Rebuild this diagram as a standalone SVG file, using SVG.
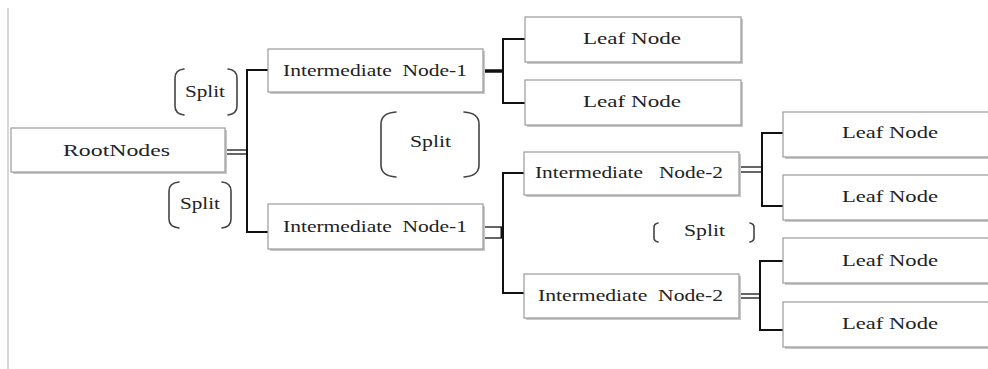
<svg xmlns="http://www.w3.org/2000/svg" width="988" height="369" viewBox="0 0 988 369">
<style>
.box{fill:#fff;stroke:#9a9a9a;stroke-width:1.2}
.sh{fill:#c8c8c8}
.t{font-family:'Liberation Serif','DejaVu Serif',serif;font-size:16.5px;fill:#222}
.c{fill:none;stroke:#111;stroke-width:2}
.d{fill:none;stroke:#111;stroke-width:1.3}
.b{fill:none;stroke:#444;stroke-width:1.6;stroke-linecap:round}
</style>
<rect width="988" height="369" fill="#fff"/>
<line x1="8" y1="8" x2="8" y2="369" stroke="#bdbdbd" stroke-width="1.2"/>
<g id="connectors">
<line class="d" x1="225" y1="150" x2="247" y2="150"/>
<line class="d" x1="225" y1="154" x2="247" y2="154"/>
<polyline class="c" points="268,70 247,70 247,232 268,232"/>
<line x1="483" y1="71" x2="503" y2="71" stroke="#111" stroke-width="3.5"/>
<polyline class="c" points="525,39 503,39 503,103 525,103"/>
<line class="d" x1="483" y1="227" x2="503" y2="227"/>
<line class="d" x1="483" y1="238" x2="503" y2="238"/>
<polyline class="c" points="524,173 503,173 503,293 524,293"/>
<line x1="502" y1="227" x2="502" y2="238" stroke="#111" stroke-width="3"/>
<line class="d" x1="739" y1="167" x2="762" y2="167"/>
<line class="d" x1="739" y1="172" x2="762" y2="172"/>
<polyline class="c" points="783,133 762,133 762,206 783,206"/>
<line class="d" x1="739" y1="294" x2="760" y2="294"/>
<line class="d" x1="739" y1="298" x2="760" y2="298"/>
<polyline class="c" points="783,261 760,261 760,330 783,330"/>
</g>
<g id="root">
<rect class="sh" x="13" y="130" width="214" height="44"/>
<rect class="box" x="11" y="128" width="214" height="44"/>
<text class="t" x="63" y="156" textLength="107" lengthAdjust="spacingAndGlyphs">RootNodes</text>
</g>
<g id="int1a">
<rect class="sh" x="270" y="51" width="215" height="43"/>
<rect class="box" x="268" y="49" width="215" height="43"/>
<text class="t" x="283" y="76" textLength="184" lengthAdjust="spacingAndGlyphs" xml:space="preserve">Intermediate  Node-1</text>
</g>
<g id="int1b">
<rect class="sh" x="270" y="206" width="215" height="45"/>
<rect class="box" x="268" y="204" width="215" height="45"/>
<text class="t" x="283" y="232" textLength="184" lengthAdjust="spacingAndGlyphs" xml:space="preserve">Intermediate  Node-1</text>
</g>
<g id="leaf1">
<rect class="sh" x="527" y="19" width="216" height="45"/>
<rect class="box" x="525" y="17" width="216" height="45"/>
<text class="t" x="583" y="44" textLength="98" lengthAdjust="spacingAndGlyphs">Leaf Node</text>
</g>
<g id="leaf2">
<rect class="sh" x="527" y="82" width="216" height="45"/>
<rect class="box" x="525" y="80" width="216" height="45"/>
<text class="t" x="583" y="107" textLength="98" lengthAdjust="spacingAndGlyphs">Leaf Node</text>
</g>
<g id="int2a">
<rect class="sh" x="526" y="154" width="215" height="43"/>
<rect class="box" x="524" y="152" width="215" height="43"/>
<text class="t" x="535" y="178" textLength="188" lengthAdjust="spacingAndGlyphs" xml:space="preserve">Intermediate   Node-2</text>
</g>
<g id="int2b">
<rect class="sh" x="526" y="276" width="215" height="44"/>
<rect class="box" x="524" y="274" width="215" height="44"/>
<text class="t" x="538" y="301" textLength="185" lengthAdjust="spacingAndGlyphs" xml:space="preserve">Intermediate  Node-2</text>
</g>
<g id="leaf3">
<rect class="sh" x="785" y="114" width="215" height="45"/>
<rect class="box" x="783" y="112" width="215" height="45"/>
<text class="t" x="842" y="138" textLength="96" lengthAdjust="spacingAndGlyphs">Leaf Node</text>
</g>
<g id="leaf4">
<rect class="sh" x="785" y="177" width="215" height="45"/>
<rect class="box" x="783" y="175" width="215" height="45"/>
<text class="t" x="842" y="202" textLength="96" lengthAdjust="spacingAndGlyphs">Leaf Node</text>
</g>
<g id="leaf5">
<rect class="sh" x="785" y="240" width="215" height="45"/>
<rect class="box" x="783" y="238" width="215" height="45"/>
<text class="t" x="842" y="266" textLength="96" lengthAdjust="spacingAndGlyphs">Leaf Node</text>
</g>
<g id="leaf6">
<rect class="sh" x="785" y="304" width="215" height="45"/>
<rect class="box" x="783" y="302" width="215" height="45"/>
<text class="t" x="842" y="329" textLength="96" lengthAdjust="spacingAndGlyphs">Leaf Node</text>
</g>
<g id="split1">
<path class="b" d="M184,69 Q175,70 175,78 V106 Q175,114 184,115 M228,69 Q237,70 237,78 V106 Q237,114 228,115"/>
<text class="t" x="185" y="97" textLength="40" lengthAdjust="spacingAndGlyphs">Split</text>
</g>
<g id="split2">
<path class="b" d="M179,182 Q169,183 169,191 V219 Q169,227 179,228 M222,182 Q231,183 231,191 V219 Q231,227 222,228"/>
<text class="t" x="180" y="209" textLength="40" lengthAdjust="spacingAndGlyphs">Split</text>
</g>
<g id="split3">
<path class="b" d="M396,112 Q381,113 381,124 V165 Q381,176 396,177 M464,112 Q479,113 479,124 V165 Q479,176 464,177"/>
<text class="t" x="410" y="147" textLength="41" lengthAdjust="spacingAndGlyphs">Split</text>
</g>
<g id="split4">
<path class="b" d="M658,223 Q654,224 654,227 V238 Q654,241 658,242 M750,223 Q754,224 754,227 V238 Q754,241 750,242"/>
<text class="t" x="684" y="236" textLength="41" lengthAdjust="spacingAndGlyphs">Split</text>
</g>
</svg>
